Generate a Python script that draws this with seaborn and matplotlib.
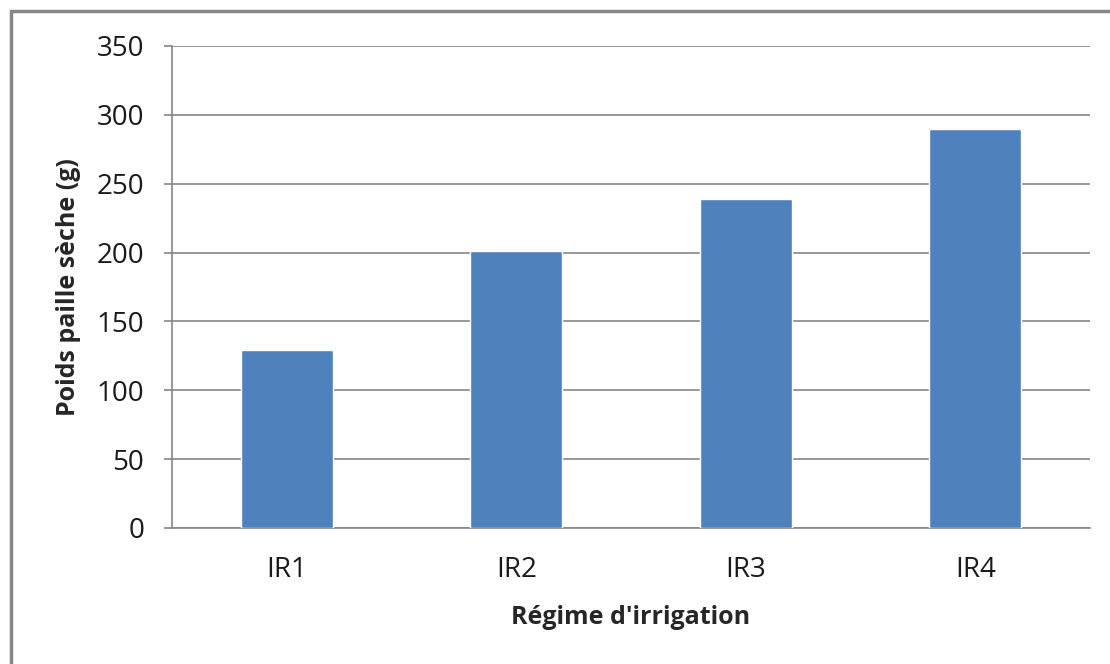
import numpy
import seaborn
import matplotlib.pyplot as plt
import matplotlib.ticker as ticker
from matplotlib.lines import Line2D

# data
regimes = ['IR1', 'IR2', 'IR3', 'IR4']
poids = [129, 201, 239, 290]
y_ticks = [0, 50, 100, 150, 200, 250, 300, 350]

seaborn.set_style('white')
plt.rcParams['font.family'] = ['Open Sans', 'DejaVu Sans']

fig = plt.figure(figsize=(11.1, 6.64), dpi=100)
ax = fig.add_axes([172 / 1110, 1 - 528 / 664, (1090 - 172) / 1110, (528 - 46) / 664])

seaborn.barplot(x=regimes, y=poids, color='#4F81BD', saturation=1, width=0.4, ax=ax, zorder=3)

ax.set_ylim(0, 350)
ax.set_xlim(-0.5, 3.5)
ax.set_yticks(y_ticks)
ax.yaxis.grid(True, color='#868686', linewidth=1.2, zorder=0)
ax.set_axisbelow(True)

for side in ['top', 'right']:
    ax.spines[side].set_visible(False)
for side in ['left', 'bottom']:
    ax.spines[side].set_color('#868686')
    ax.spines[side].set_linewidth(1.2)

# category boundary ticks on x, like Excel
ax.xaxis.set_minor_locator(ticker.FixedLocator(numpy.arange(-0.5, 4, 1.0)))
ax.tick_params(axis='x', which='major', length=0, pad=20, labelsize=20, labelcolor='#1a1a1a')
ax.tick_params(axis='x', which='minor', length=7, width=1.2, color='#868686', direction='out')
ax.tick_params(axis='y', which='major', length=6, width=1.2, color='#868686', direction='out',
               left=True, pad=14, labelsize=20, labelcolor='#1a1a1a')

ax.set_xlabel("Régime d'irrigation", fontsize=18, fontweight='bold', labelpad=15)
ax.set_ylabel('Poids paille sèche (g)', fontsize=18, fontweight='bold', labelpad=11)

# outer chart frame (left and top edges visible)
fig.add_artist(Line2D([11 / 1110, 11 / 1110], [0, 1 - 11 / 664], transform=fig.transFigure,
                      color='#878787', linewidth=2.5))
fig.add_artist(Line2D([11 / 1110, 1], [1 - 11 / 664, 1 - 11 / 664], transform=fig.transFigure,
                      color='#878787', linewidth=2.5))

fig.savefig('out.png', dpi=100)
